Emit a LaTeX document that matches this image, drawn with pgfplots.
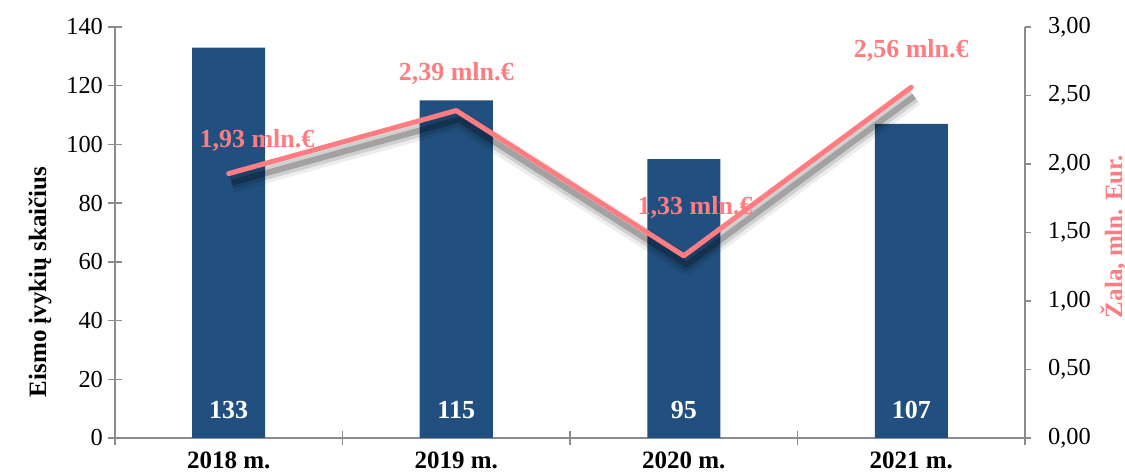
\documentclass[border=0pt]{standalone}
\usepackage{pgfplots}
\pgfplotsset{compat=1.18}
\usepackage{fontspec}
\setmainfont{Liberation Serif}
\definecolor{barblue}{HTML}{215080}
\definecolor{salmon}{HTML}{FF7C80}
\definecolor{axgray}{HTML}{8C8C8C}
\begin{document}
\begin{tikzpicture}
\useasboundingbox (-57.5pt,-18.5pt) rectangle (505pt,219pt);
\begin{axis}[
  at={(0,0)}, anchor=south west,
  scale only axis, width=455pt, height=205.5pt,
  xmin=-0.5, xmax=3.5, ymin=0, ymax=140,
  axis x line*=bottom, axis y line*=left,
  axis line style={draw=axgray, line width=0.7pt, -},
  ybar, bar width=36.5pt,
  xtick={-0.5,0.5,1.5,2.5,3.5},
  xticklabels={2018 m.,2019 m.,2020 m.,2021 m.,},
  x tick label style={font=\fontsize{12.5}{14}\selectfont\bfseries, xshift=56.875pt, yshift=0pt},
  ytick={0,20,40,60,80,100,120,140},
  tick style={draw=axgray, line width=0.7pt},
  tick align=center, major tick length=7pt,
  y tick label style={font=\fontsize{12.2}{14}\selectfont, xshift=1pt},
  /pgf/number format/assume math mode=true,
  ylabel={Eismo įvykių skaičius},
  every axis y label/.style={at={(axis description cs:-0.0824,0.38)}, rotate=90, anchor=center, font=\fontsize{12.5}{14}\selectfont\bfseries},
]
\addplot[fill=barblue, draw=none] coordinates {(0,133) (1,115) (2,95) (3,107)};
\node[text=white, font=\fontsize{13}{15}\selectfont\bfseries] at (axis cs:0,9.5) {133};
\node[text=white, font=\fontsize{13}{15}\selectfont\bfseries] at (axis cs:1,9.5) {115};
\node[text=white, font=\fontsize{13}{15}\selectfont\bfseries] at (axis cs:2,9.5) {95};
\node[text=white, font=\fontsize{13}{15}\selectfont\bfseries] at (axis cs:3,9.5) {107};
\end{axis}
\begin{axis}[
  at={(0,0)}, anchor=south west,
  scale only axis, width=455pt, height=205.5pt,
  xmin=-0.5, xmax=3.5, ymin=0, ymax=3,
  axis y line*=right, axis x line=none,
  axis line style={draw=axgray, line width=0.7pt, -},
  ytick={0,0.5,1,1.5,2,2.5,3},
  tick style={draw=axgray, line width=0.7pt},
  tick align=outside, major tick length=3pt,
  y tick label style={font=\fontsize{12.2}{14}\selectfont, xshift=5pt, /pgf/number format/.cd, fixed, fixed zerofill, precision=2, use comma, assume math mode=true},
  ylabel={Žala, mln. Eur.},
  every axis y label/.style={at={(axis description cs:1.097,0.49)}, rotate=90, anchor=center, text=salmon, font=\fontsize{12.5}{14}\selectfont\bfseries},
  clip=false,
]
\addplot[black, opacity=0.07, line width=10pt, line join=round, transform canvas={xshift=1.5pt,yshift=-4.5pt}] coordinates {(0,1.93) (1,2.39) (2,1.33) (3,2.56)};
\addplot[black, opacity=0.12, line width=6.5pt, line join=round, transform canvas={xshift=1.5pt,yshift=-4.5pt}] coordinates {(0,1.93) (1,2.39) (2,1.33) (3,2.56)};
\addplot[black, opacity=0.22, line width=3pt, line join=round, transform canvas={xshift=1.5pt,yshift=-4.5pt}] coordinates {(0,1.93) (1,2.39) (2,1.33) (3,2.56)};
\addplot[salmon, line width=2.5pt, line join=round, line cap=round] coordinates {(0,1.93) (1,2.39) (2,1.33) (3,2.56)};
\node[text=salmon, font=\fontsize{13}{15}\selectfont\bfseries] at (axis cs:0.124,2.175) {1,93 mln.€};
\node[text=salmon, font=\fontsize{13}{15}\selectfont\bfseries] at (axis cs:1,2.664) {2,39 mln.€};
\node[text=salmon, font=\fontsize{13}{15}\selectfont\bfseries] at (axis cs:2.05,1.679) {1,33 mln.€};
\node[text=salmon, font=\fontsize{13}{15}\selectfont\bfseries] at (axis cs:3,2.832) {2,56 mln.€};
\end{axis}
\end{tikzpicture}
\end{document}
